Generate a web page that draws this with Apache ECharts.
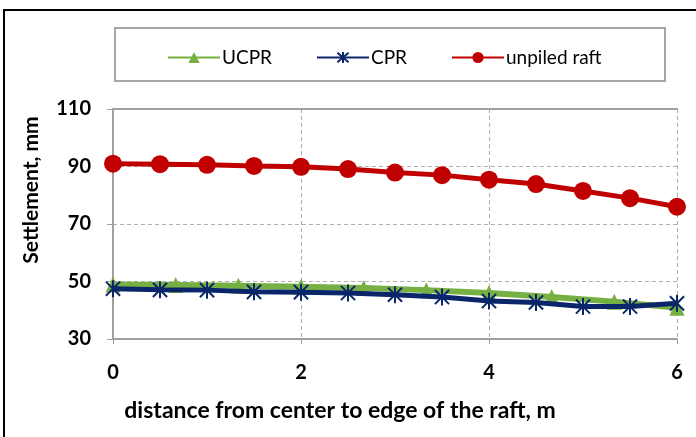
<!DOCTYPE html>
<html><head><meta charset="utf-8">
<script src="https://cdn.jsdelivr.net/npm/echarts@6/dist/echarts.min.js"></script>
<style>html,body{margin:0;padding:0;background:#fff}#c{width:696px;height:437px}</style>
</head><body><div id="c"></div>
<script>
// distances (m)
const xHalf = [0, 0.5, 1, 1.5, 2, 2.5, 3, 3.5, 4, 4.5, 5, 5.5, 6];
const xThird = [0, 0.667, 1.333, 2, 2.667, 3.333, 4, 4.667, 5.333, 6];
// settlements (mm)
const unpiledRaft = [91.0, 90.8, 90.6, 90.2, 89.9, 89.1, 87.9, 87.0, 85.4, 83.9, 81.5, 79.0, 76.0];
const cpr = [47.5, 47.1, 47.0, 46.4, 46.3, 46.0, 45.4, 44.6, 43.2, 42.7, 41.3, 41.3, 42.4];
const ucpr = [49.0, 48.8, 48.5, 48.2, 47.7, 47.0, 46.0, 44.6, 43.0, 40.9];
const yTicks = [30, 50, 70, 90, 110];
const xTicks = [0, 2, 4, 6];

const pair = (xs, ys) => xs.map((x, i) => [x, ys[i]]);
const font = 'Lato, "Open Sans", sans-serif';
const grayAxis = '#a0a0a0';
const star = 'path://M0,0 L10,10 M10,0 L0,10 M5,-1 L5,11';

const chart = echarts.init(document.getElementById('c'), null, {renderer: 'canvas'});
chart.setOption({
  animation: false,
  backgroundColor: '#fff',
  grid: {left: 113, right: 19, top: 109, bottom: 98, containLabel: false},
  graphic: [
    {type: 'rect', shape: {x: 4, y: 10, width: 800, height: 600}, style: {fill: 'none', stroke: '#000', lineWidth: 2}, z: 0},
    {type: 'rect', shape: {x: 115, y: 28, width: 550, height: 53}, style: {fill: '#fff', stroke: '#a6a6a6', lineWidth: 2}, z: 0},
    {type: 'text', rotation: Math.PI / 2, style: {text: 'Settlement, mm', font: 'bold 21px ' + font, fill: '#000', textAlign: 'center', textVerticalAlign: 'middle'}, x: 31, y: 190},
    {type: 'text', style: {text: 'distance from center to edge of the raft, m', font: 'bold 23px ' + font, fill: '#000', textAlign: 'center', textVerticalAlign: 'middle'}, x: 340, y: 411}
  ],
  legend: {
    left: 162, top: 43, itemWidth: 52, itemHeight: 14, itemGap: 44,
    textStyle: {fontFamily: font, fontSize: 19, color: '#000', padding: [0, 0, 0, -3]},
    data: ['UCPR', 'CPR', 'unpiled raft']
  },
  xAxis: [{
    type: 'value', min: 0, max: 6, interval: 2,
    axisLine: {show: true, onZero: false, lineStyle: {color: grayAxis, width: 2}},
    axisTick: {show: true, length: 5, lineStyle: {color: grayAxis, width: 1}},
    axisLabel: {margin: 24, fontFamily: font, fontWeight: 'bold', fontSize: 20, color: '#000', customValues: xTicks},
    splitLine: {show: true, lineStyle: {color: '#b0b0b0', type: [4, 3], width: 1}}
  }, {
    type: 'value', position: 'top', min: 0, max: 6, interval: 2,
    axisLine: {show: true, lineStyle: {color: grayAxis, width: 2}},
    axisTick: {show: false}, axisLabel: {show: false}, splitLine: {show: false}
  }],
  yAxis: [{
    type: 'value', min: 30, max: 110, interval: 20,
    axisLine: {show: true, onZero: false, lineStyle: {color: grayAxis, width: 2}},
    axisTick: {show: true, length: 6, lineStyle: {color: grayAxis, width: 1}},
    axisLabel: {margin: 22, fontFamily: font, fontWeight: 'bold', fontSize: 20, color: '#000', customValues: yTicks},
    splitLine: {show: true, lineStyle: {color: '#b0b0b0', type: [4, 3], width: 1}}
  }, {
    type: 'value', position: 'right', min: 30, max: 110, interval: 20,
    axisLine: {show: true, lineStyle: {color: grayAxis, width: 2}},
    axisTick: {show: false}, axisLabel: {show: false}, splitLine: {show: false}
  }],
  series: [
    {
      name: 'UCPR', type: 'line', data: pair(xThird, ucpr),
      symbol: 'triangle', symbolSize: [15, 16],
      lineStyle: {color: '#76b043', width: 6},
      itemStyle: {color: '#76b043'}, z: 3
    },
    {
      name: 'CPR', type: 'line', data: pair(xHalf, cpr),
      symbol: star, symbolSize: 17, symbolKeepAspect: true,
      lineStyle: {color: '#0a2569', width: 5},
      itemStyle: {color: '#0a2569', borderColor: '#0a2569', borderWidth: 2}, z: 4
    },
    {
      name: 'unpiled raft', type: 'line', data: pair(xHalf, unpiledRaft),
      symbol: 'circle', symbolSize: 18,
      lineStyle: {color: '#c00000', width: 5},
      itemStyle: {color: '#c00000'}, z: 5
    }
  ]
});
</script></body></html>
